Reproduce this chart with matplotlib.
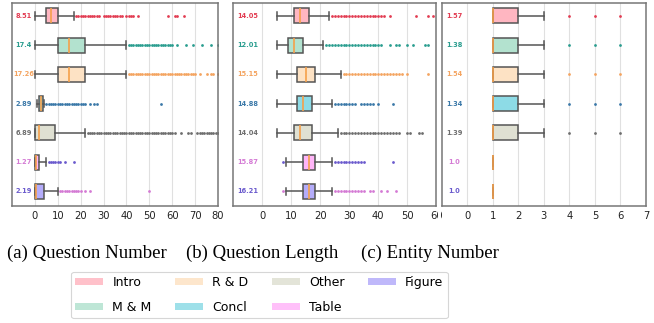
import matplotlib
matplotlib.use('Agg')
import matplotlib.pyplot as plt
from matplotlib.patches import Patch, Rectangle

W, H = 654, 323

sections = ['Intro', 'M & M', 'R & D', 'Concl', 'Other', 'Table', 'Figure']
box_colors = ['#ffb6c1', '#b3e2cf', '#fde2c4', '#8ddbe6', '#dfe0d2', '#ffb5f8', '#b4acfa']
text_colors = ['#e23c52', '#2a9d8f', '#f4a460', '#3a78a8', '#6e6e6e', '#d47ad4', '#6a5acd']
flier_colors = ['#e23c52', '#2a9d8f', '#f4a460', '#3a78a8', '#6e6e6e', '#6a5acd', '#d47ad4']

# (a) Question Number
qnum_mean = ['8.51', '17.4', '17.26', '2.89', '6.89', '1.27', '2.19']
qnum_whislo = [0, 0, 0, 1, 0, 0, 0]
qnum_q1 = [5, 10, 10, 1.8, 0, 0, 0]
qnum_med = [7, 15, 15, 2.7, 2, 0.4, 0.4]
qnum_q3 = [10, 22, 22, 3.4, 9, 2, 4]
qnum_whishi = [17, 40, 40, 4, 22, 5, 10]
qnum_fliers = [
    [18, 19, 20, 21, 22, 23, 24, 25, 26, 27, 28, 30, 31, 32, 33, 34, 35, 36, 37, 38,
     40, 41, 42, 43, 45, 58, 61, 62, 65],
    [41, 42, 43, 44, 45, 46, 47, 48, 49, 50, 51, 52, 53, 54, 55, 56, 57, 58, 59, 60,
     62, 66, 69, 73, 77, 80],
    [41, 42, 43, 44, 45, 46, 47, 48, 49, 50, 51, 52, 53, 54, 55, 56, 57, 58, 59, 60,
     61, 62, 63, 64, 65, 66, 67, 68, 69, 70, 72, 75, 77, 78, 80],
    [5, 6, 7, 8, 9, 10, 11, 12, 13, 14, 15, 16, 17, 18, 19, 20, 21, 22, 24, 26, 27, 55],
    [23, 24, 25, 26, 27, 28, 29, 30, 31, 32, 33, 34, 35, 36, 37, 38, 39, 40, 41, 42,
     43, 44, 45, 46, 47, 48, 49, 50, 51, 52, 53, 54, 55, 56, 57, 58, 59, 60, 61, 64,
     67, 68, 71, 72, 73, 74, 75, 76, 77, 78, 79, 80],
    [6, 7, 8, 9, 10, 11, 13, 17],
    [11, 12, 13, 14, 15, 16, 17, 18, 19, 20, 22, 24, 50],
]

# (b) Question Length
qlen_mean = ['14.05', '12.01', '15.15', '14.88', '14.04', '15.87', '16.21']
qlen_whislo = [5, 5, 5, 5, 5, 8, 8]
qlen_q1 = [11, 9, 12, 12, 11, 14, 14]
qlen_med = [13, 11, 15, 14, 13, 16, 16]
qlen_q3 = [16, 14, 18, 17, 17, 18, 18]
qlen_whishi = [23, 21, 27, 24, 26, 24, 24]
qlen_fliers = [
    [24, 25, 26, 27, 28, 29, 30, 31, 32, 33, 34, 35, 36, 37, 38, 39, 40, 41, 42, 44,
     53, 57, 59],
    [22, 23, 24, 25, 26, 27, 28, 29, 30, 31, 32, 33, 34, 35, 36, 37, 38, 39, 40, 41,
     44, 46, 47, 50, 52, 56, 57],
    [28, 29, 30, 31, 32, 33, 34, 35, 36, 37, 38, 39, 40, 41, 42, 43, 44, 45, 46, 47,
     48, 50, 57],
    [25, 26, 27, 28, 29, 30, 31, 32, 34, 35, 36, 37, 38, 40, 45],
    [27, 28, 29, 30, 31, 32, 33, 34, 35, 36, 37, 38, 39, 40, 41, 42, 43, 44, 45, 46,
     47, 50, 51, 54, 55],
    [7, 25, 26, 27, 28, 29, 30, 31, 32, 33, 34, 35, 45],
    [7, 25, 26, 27, 28, 29, 30, 31, 32, 33, 34, 35, 37, 38, 41, 43, 46],
]

# (c) Entity Number
ent_mean = ['1.57', '1.38', '1.54', '1.34', '1.39', '1.0', '1.0']
ent_whislo = [1, 1, 1, 1, 1, 1, 1]
ent_q1 = [1, 1, 1, 1, 1, 1, 1]
ent_med = [1, 1, 1, 1, 1, 1, 1]
ent_q3 = [2, 2, 2, 2, 2, 1, 1]
ent_whishi = [3, 3, 3, 3, 3, 1, 1]
ent_fliers = [[4, 5, 6], [4, 5, 6], [4, 5, 6], [4, 5, 6], [4, 5, 6], [], []]

panels = [
    dict(px=(12, 218), xlim=(-10, 80), ticks=list(range(0, 81, 10)),
         mean=qnum_mean, lo=qnum_whislo, q1=qnum_q1, med=qnum_med, q3=qnum_q3,
         hi=qnum_whishi, fl=qnum_fliers),
    dict(px=(233.3, 436.3), xlim=(-10, 60), ticks=list(range(0, 61, 10)),
         mean=qlen_mean, lo=qlen_whislo, q1=qlen_q1, med=qlen_med, q3=qlen_q3,
         hi=qlen_whishi, fl=qlen_fliers),
    dict(px=(441.7, 646), xlim=(-1, 7), ticks=list(range(0, 8)),
         mean=ent_mean, lo=ent_whislo, q1=ent_q1, med=ent_med, q3=ent_q3,
         hi=ent_whishi, fl=ent_fliers),
]

fig = plt.figure(figsize=(W / 100, H / 100), dpi=100)
top_px, bot_px = 3.3, 206

for p in panels:
    l, r = p['px']
    ax = fig.add_axes([l / W, 1 - bot_px / H, (r - l) / W, (bot_px - top_px) / H])
    positions = list(range(1, len(sections) + 1))
    stats = []
    for i in range(len(sections)):
        stats.append(dict(whislo=p['lo'][i], q1=p['q1'][i], med=p['med'][i],
                          q3=p['q3'][i], whishi=p['hi'][i], fliers=p['fl'][i]))
    kw = dict(positions=positions, widths=0.52, patch_artist=True, showfliers=True,
              boxprops=dict(edgecolor='#555555', linewidth=1.1),
              whiskerprops=dict(color='#555555', linewidth=1.1),
              capprops=dict(color='#555555', linewidth=1.1),
              medianprops=dict(color='#f5a04a', linewidth=1.2),
              flierprops=dict(marker='o', markersize=2.0, markeredgewidth=0,
                              linestyle='none'))
    try:
        art = ax.bxp(stats, orientation='horizontal', **kw)
    except TypeError:
        art = ax.bxp(stats, vert=False, **kw)
    for i, b in enumerate(art['boxes']):
        b.set_facecolor(box_colors[i])
    for i, f in enumerate(art['fliers']):
        f.set_markerfacecolor(flier_colors[i])
        f.set_markeredgecolor(flier_colors[i])
    x0 = p['xlim'][0]
    for i, m in enumerate(p['mean']):
        ax.text(x0 / 2, positions[i], m, ha='center', va='center', color=text_colors[i],
                fontsize=4.8, fontweight='bold')
    ax.set_xlim(*p['xlim'])
    ax.set_ylim(7.5, 0.57)
    ax.set_xticks(p['ticks'])
    ax.set_xticklabels([str(t) for t in p['ticks']])
    ax.set_yticks([])
    ax.tick_params(axis='x', length=0, pad=3.5, labelsize=7.2, colors='#222222')
    ax.grid(axis='x', color='#e0e0e0', linewidth=0.8)
    ax.set_axisbelow(True)
    for s in ax.spines.values():
        s.set_color('#777777')
        s.set_linewidth(1.1)

# mask the cut-off part of the middle panel's last tick label (as in the composite)
fig.add_artist(Rectangle((437.8 / W, 1 - 226 / H), 3.6 / W, 19 / H,
                         transform=fig.transFigure, facecolor='white',
                         edgecolor='none', zorder=10))

captions = ['(a) Question Number', '(b) Question Length', '(c) Entity Number']
cap_x = [86.7, 262.5, 429.7]
for c, x in zip(captions, cap_x):
    fig.text(x / W, 1 - 253 / H, c, ha='center', va='center',
             family='Liberation Serif', fontsize=13.5, color='black')

handles = [Patch(facecolor=c, edgecolor='none', alpha=0.85) for c in box_colors]
leg = fig.legend(handles, sections, ncol=4, loc='upper left',
                 bbox_to_anchor=(71 / W, 1 - 271.7 / H), frameon=True, fontsize=9,
                 handlelength=2.2, handleheight=0.5, handletextpad=0.75,
                 columnspacing=1.9, labelspacing=0.95, borderpad=0.35,
                 borderaxespad=0, fancybox=True)
leg.get_frame().set_edgecolor('#cccccc')
leg.get_frame().set_linewidth(0.8)

fig.savefig('out.png', dpi=100)
